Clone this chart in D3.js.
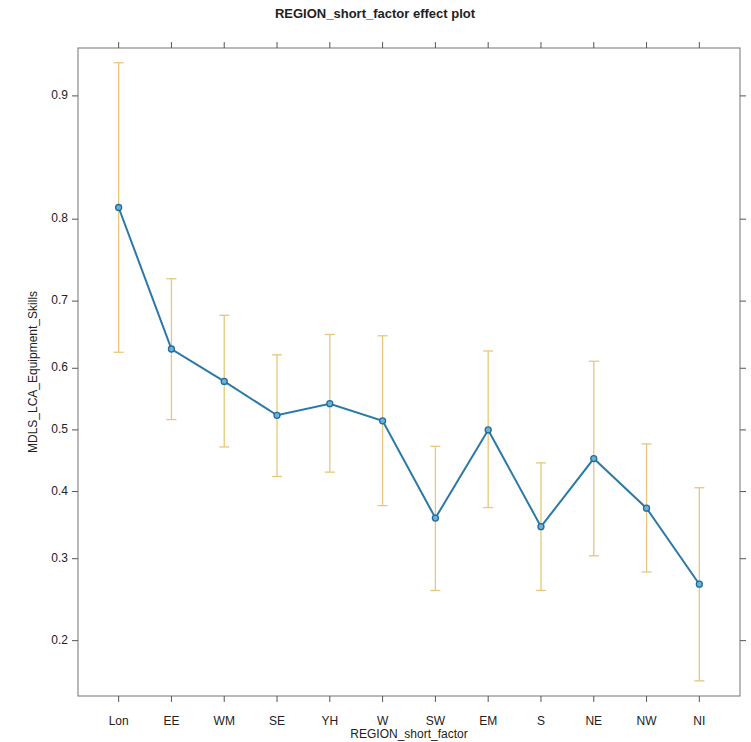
<!DOCTYPE html>
<html>
<head>
<meta charset="utf-8">
<script src="https://cdn.jsdelivr.net/npm/d3@7"></script>
<style>
body { margin: 0; background: #fff; }
text { font-family: "Liberation Sans", Arial, sans-serif; fill: #222; }
</style>
</head>
<body>
<svg id="chart" width="751" height="742"></svg>
<script>
const regions = ["Lon","EE","WM","SE","YH","W","SW","EM","S","NE","NW","NI"];
const fitValues = [0.812, 0.630, 0.579, 0.524, 0.543, 0.515, 0.359, 0.500, 0.346, 0.453, 0.374, 0.266];
const upperValues = [0.918, 0.730, 0.680, 0.621, 0.652, 0.650, 0.473, 0.627, 0.446, 0.611, 0.477, 0.406];
const lowerValues = [0.625, 0.517, 0.472, 0.424, 0.431, 0.378, 0.258, 0.375, 0.258, 0.304, 0.282, 0.161];
const yTicks = [0.2, 0.3, 0.4, 0.5, 0.6, 0.7, 0.8, 0.9];
const yDomain = [0.148, 0.925];

(function () {
const svg = d3.select("#chart");
const pL = 78, pR = 740, pT = 48, pB = 696;

const logit = p => Math.log(p / (1 - p));
const yLin = d3.scaleLinear().domain(yDomain.map(logit)).range([pB, pT]);
const y = p => yLin(logit(p));
const x = d3.scalePoint().domain(regions).range([pL, pR]).padding(0.77);

// frame
svg.append("rect").attr("x", pL).attr("y", pT).attr("width", pR - pL).attr("height", pB - pT)
  .attr("fill", "none").attr("stroke", "#8a8a8a").attr("stroke-width", 1.2);

// axes
const tickColor = "#555";
const gB = svg.append("g");
regions.forEach(r => {
  gB.append("line").attr("x1", x(r)).attr("x2", x(r)).attr("y1", pB).attr("y2", pB + 6).attr("stroke", tickColor);
  gB.append("line").attr("x1", x(r)).attr("x2", x(r)).attr("y1", pT).attr("y2", pT - 6).attr("stroke", tickColor);
  gB.append("text").attr("x", x(r)).attr("y", 722).attr("text-anchor", "middle").attr("dominant-baseline", "middle")
    .attr("font-size", 12).text(r);
});
yTicks.forEach(t => {
  gB.append("line").attr("x1", pL - 6).attr("x2", pL).attr("y1", y(t)).attr("y2", y(t)).attr("stroke", tickColor);
  gB.append("line").attr("x1", pR).attr("x2", pR + 6).attr("y1", y(t)).attr("y2", y(t)).attr("stroke", tickColor);
  gB.append("text").attr("x", pL - 10).attr("y", y(t)).attr("text-anchor", "end").attr("dominant-baseline", "middle")
    .attr("font-size", 12).text(d3.format(".1f")(t));
});

// titles
svg.append("text").attr("x", 375).attr("y", 15).attr("text-anchor", "middle").attr("dominant-baseline", "middle")
  .attr("font-size", 13).attr("font-weight", "bold").text("REGION_short_factor effect plot");
svg.append("text").attr("x", (pL + pR) / 2).attr("y", 735).attr("text-anchor", "middle").attr("dominant-baseline", "middle")
  .attr("font-size", 12).text("REGION_short_factor");
svg.append("text").attr("transform", `translate(34,${(pT + pB) / 2}) rotate(-90)`).attr("text-anchor", "middle")
  .attr("dominant-baseline", "middle").attr("font-size", 12).text("MDLS_LCA_Equipment_Skills");

// error bars
const barColor = "#e6c77c";
const eb = svg.append("g").attr("stroke", barColor).attr("stroke-width", 1.3).attr("fill", "none");
regions.forEach((r, i) => {
  const cx = x(r);
  eb.append("line").attr("x1", cx).attr("x2", cx).attr("y1", y(lowerValues[i])).attr("y2", y(upperValues[i]));
  eb.append("line").attr("x1", cx - 5).attr("x2", cx + 5).attr("y1", y(lowerValues[i])).attr("y2", y(lowerValues[i]));
  eb.append("line").attr("x1", cx - 5).attr("x2", cx + 5).attr("y1", y(upperValues[i])).attr("y2", y(upperValues[i]));
});

// line
const lineColor = "#2a79a8";
const line = d3.line().x((d, i) => x(regions[i])).y(d => y(d));
svg.append("path").datum(fitValues).attr("d", line).attr("fill", "none").attr("stroke", lineColor).attr("stroke-width", 2);

svg.append("g").selectAll("circle").data(fitValues).join("circle")
  .attr("cx", (d, i) => x(regions[i])).attr("cy", d => y(d)).attr("r", 3)
  .attr("fill", "#6fb0d6").attr("stroke", "#1f6d9c").attr("stroke-width", 1.3);
})();
</script>
</body>
</html>
